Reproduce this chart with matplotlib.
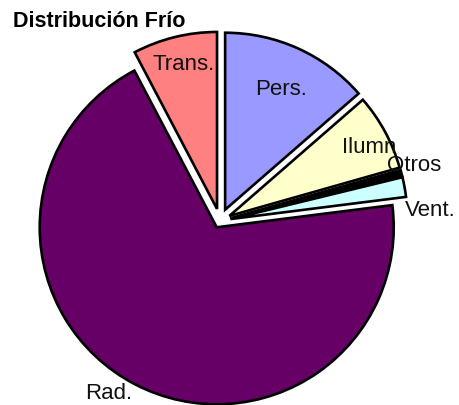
import matplotlib
matplotlib.use("Agg")
import matplotlib.pyplot as plt
import numpy as np

labels = ["Pers.", "Ilumn", "Otros", "Vent.", "Rad.", "Trans."]
values = [13.6, 7.0, 0.6, 1.8, 69.3, 7.7]
colors = ["#9999FF", "#FFFFCC", "#000000", "#CCFFFF", "#660066", "#FF8080"]
explode = [0.07, 0.06, 0.06, 0.06, 0.04, 0.07]

# label placement: (radius factor, angle offset in degrees)
label_r = [0.75, 0.88, 1.08, 1.13, 1.12, 0.84]
label_da = [-0.5, -2.5, 1.2, -8.0, -5.5, -1.0]

fig = plt.figure(figsize=(4.59, 4.05), dpi=100)
ax = fig.add_axes([0, 0, 1, 1])
R = 177.0
cx, cy = 220.0, 221.0

wedges, _ = ax.pie(values, colors=colors, explode=explode, startangle=90,
                   counterclock=False, radius=1.0,
                   wedgeprops=dict(edgecolor="black", linewidth=1.9, joinstyle="miter"))
ax.set_xlim(-cx / R, (459 - cx) / R)
ax.set_ylim(-(405 - cy) / R, cy / R)
ax.set_aspect("equal")
ax.axis("off")

for w, lab, r, da in zip(wedges, labels, label_r, label_da):
    mid = np.deg2rad((w.theta1 + w.theta2) / 2 + da)
    x0, y0 = w.center
    ax.text(x0 + r * np.cos(mid), y0 + r * np.sin(mid), lab,
            ha="center", va="center", fontsize=16,
            family=["Liberation Sans", "DejaVu Sans"], color="#111111")

fig.text(13 / 459, 1 - 27 / 405, "Distribución Frío", ha="left", va="baseline",
         fontsize=15.5, fontweight="bold", family=["Liberation Sans", "DejaVu Sans"])

fig.savefig("out.png", dpi=100)
